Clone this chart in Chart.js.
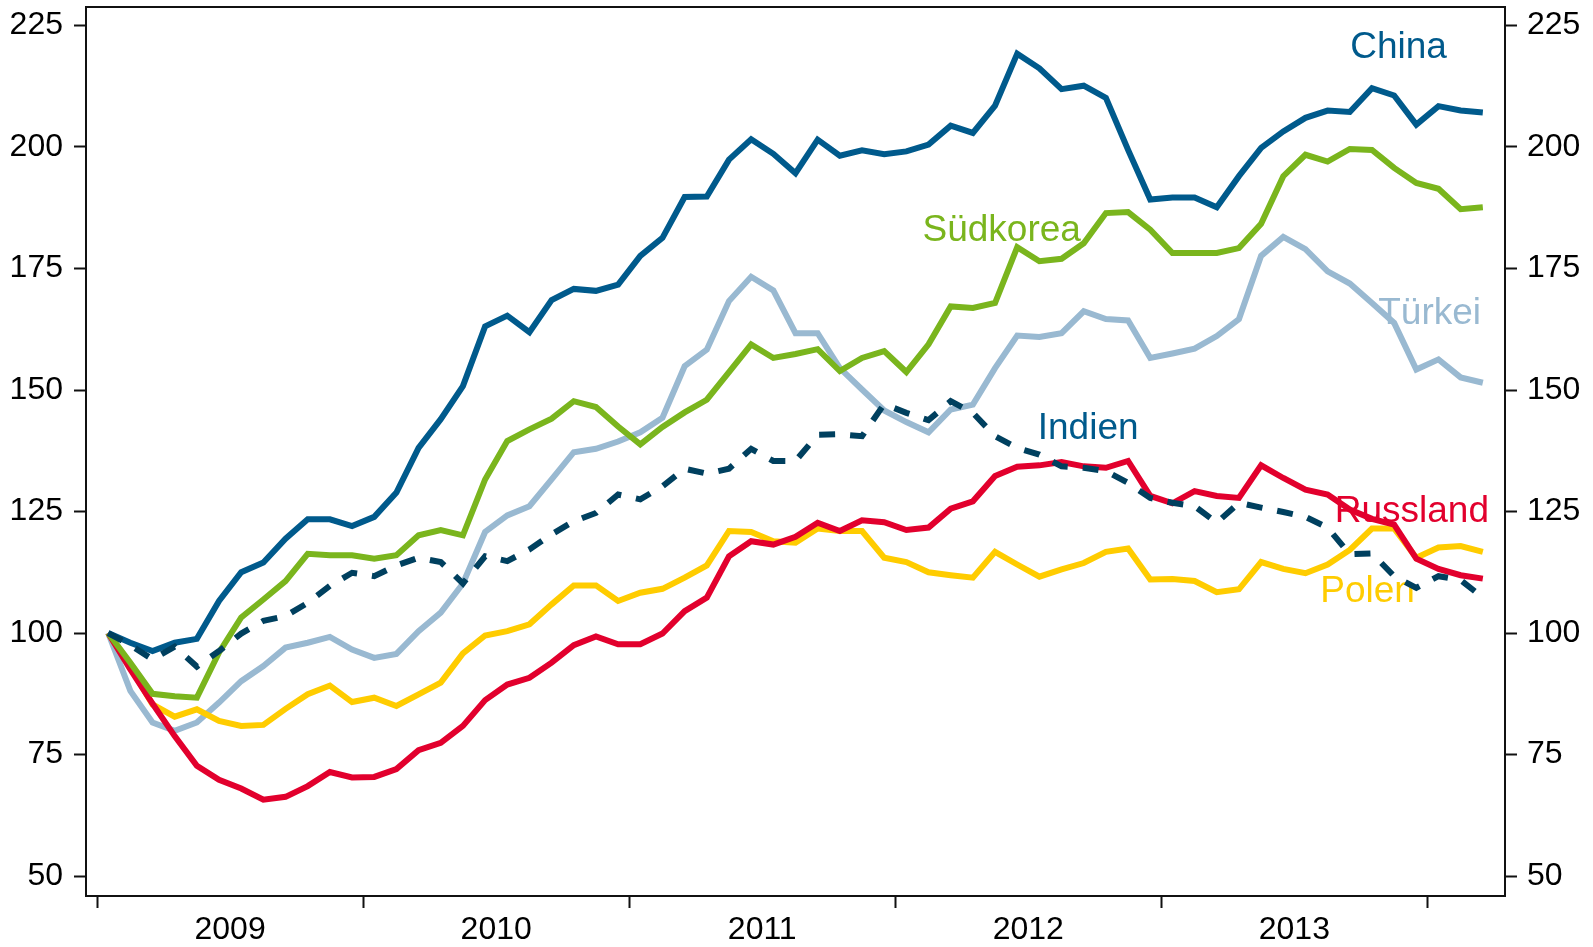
<!DOCTYPE html>
<html>
<head>
<meta charset="utf-8">
<script src="https://cdn.jsdelivr.net/npm/chart.js@4.4.1/dist/chart.umd.min.js"></script>
<style>
  html, body { margin: 0; padding: 0; background: #fff; }
  canvas { display: block; }
</style>
</head>
<body>
<canvas id="chart" width="1593" height="947"></canvas>
<script>
// Monatswerte Jan 2009 = 100, 63 Monate
const years = ['2009', '2010', '2011', '2012', '2013'];
const yTicks = [50, 75, 100, 125, 150, 175, 200, 225];

const china = [100, 98.0, 96.3, 98.0, 98.8, 106.6, 112.5, 114.5, 119.4, 123.4, 123.4, 122.0, 123.9, 128.9, 138.1, 144.0,
  150.8, 163.1, 165.3, 161.9, 168.5, 170.8, 170.4, 171.7, 177.6, 181.3, 189.7, 189.8, 197.4, 201.6, 198.6, 194.6,
  201.5, 198.2, 199.3, 198.5, 199.1, 200.5, 204.4, 202.9, 208.5, 219.2, 216.2, 211.9, 212.6, 210.1, 199.4, 189.2,
  189.6, 189.6, 187.6, 194.0, 199.8, 203.2, 206.0, 207.5, 207.2, 212.1, 210.6, 204.6, 208.4, 207.5, 207.1];
const suedkorea = [100, 93.9, 87.5, 87.0, 86.7, 96.0, 103.2, 106.9, 110.7, 116.3, 116.0, 116.0, 115.3, 116.0, 120.1, 121.2,
  120.1, 131.6, 139.5, 141.9, 144.1, 147.7, 146.5, 142.5, 138.8, 142.4, 145.4, 148.0, 153.7, 159.4, 156.6, 157.4,
  158.4, 153.9, 156.6, 158.0, 153.7, 159.4, 167.2, 166.9, 167.9, 179.4, 176.5, 177.0, 180.2, 186.4, 186.6, 183.0,
  178.2, 178.2, 178.2, 179.2, 184.2, 194.0, 198.4, 197.0, 199.6, 199.4, 195.7, 192.6, 191.4, 187.2, 187.6];
const tuerkei = [100, 88.1, 81.6, 79.9, 81.6, 85.7, 90.1, 93.2, 97.0, 98.0, 99.2, 96.6, 94.9, 95.7, 100.4, 104.2,
  110.2, 120.8, 124.2, 126.1, 131.6, 137.2, 137.9, 139.4, 141.3, 144.3, 154.9, 158.3, 168.3, 173.3, 170.5, 161.7,
  161.7, 154.5, 150.1, 145.8, 143.4, 141.3, 146.0, 147.0, 154.5, 161.2, 160.9, 161.7, 166.2, 164.6, 164.3, 156.6,
  157.5, 158.5, 161.1, 164.6, 177.6, 181.5, 179.0, 174.4, 171.9, 167.9, 163.8, 154.2, 156.3, 152.6, 151.5];
const indien = [100, 97.5, 94.6, 97.2, 93.1, 96.3, 99.9, 102.5, 103.5, 106.2, 109.7, 112.4, 111.7, 113.9, 115.5, 114.6,
  110.2, 115.8, 114.8, 117.2, 120.3, 123.0, 124.7, 128.5, 127.5, 130.2, 133.8, 132.8, 133.8, 137.9, 135.4, 135.4,
  140.8, 140.9, 140.5, 147.1, 145.3, 143.8, 147.7, 145.3, 140.5, 138.1, 136.7, 134.3, 134.0, 133.3, 130.9, 127.8,
  126.8, 126.1, 122.7, 126.8, 125.8, 124.9, 123.9, 121.7, 116.2, 116.4, 111.7, 109.3, 111.7, 110.9, 107.3];
const russland = [100, 92.5, 85.5, 78.8, 72.7, 69.8, 68.0, 65.7, 66.3, 68.5, 71.4, 70.3, 70.4, 72.0, 75.9, 77.4,
  80.9, 86.2, 89.4, 90.8, 93.9, 97.5, 99.3, 97.7, 97.7, 99.9, 104.5, 107.3, 115.8, 118.9, 118.2, 119.8,
  122.7, 121.0, 123.2, 122.8, 121.2, 121.7, 125.6, 127.1, 132.3, 134.2, 134.5, 135.2, 134.3, 134.0, 135.4, 128.2,
  126.7, 129.2, 128.2, 127.8, 134.5, 131.9, 129.5, 128.5, 125.4, 123.5, 122.3, 115.3, 113.2, 111.9, 111.2];
const polen = [100, 93.0, 85.3, 82.8, 84.3, 81.9, 80.9, 81.1, 84.4, 87.4, 89.2, 85.8, 86.7, 85.0, 87.4, 89.8,
  95.8, 99.5, 100.4, 101.8, 105.9, 109.8, 109.8, 106.6, 108.3, 109.1, 111.4, 113.9, 121.0, 120.8, 118.9, 118.6,
  121.5, 121.0, 121.0, 115.5, 114.6, 112.5, 111.9, 111.4, 116.7, 114.1, 111.6, 113.1, 114.4, 116.7, 117.4, 111.0,
  111.1, 110.7, 108.4, 109.0, 114.6, 113.2, 112.3, 114.1, 117.1, 121.5, 121.5, 115.5, 117.6, 117.9, 116.7];

const FONT = '"Liberation Sans", Arial, Helvetica, sans-serif';

const farben = {
  china: '#005a8c',
  indien: '#00405f',
  suedkorea: '#7ab51d',
  tuerkei: '#99b9d1',
  russland: '#e2002d',
  polen: '#ffcc00'
};

// Beschriftungen der Linien (Monatsindex, Wert der Grundlinie)
const beschriftungen = [
  { text: 'China', x: 58.2, y: 218.4, farbe: farben.china },
  { text: 'Südkorea', x: 40.3, y: 180.7, farbe: farben.suedkorea },
  { text: 'Türkei', x: 59.6, y: 163.5, farbe: farben.tuerkei },
  { text: 'Indien', x: 44.2, y: 140.0, farbe: farben.china },
  { text: 'Russland', x: 58.8, y: 122.8, farbe: farben.russland },
  { text: 'Polen', x: 56.8, y: 106.4, farbe: farben.polen }
];

const punkte = werte => werte.map((v, i) => ({ x: i, y: v }));

function linie(label, werte, farbe, dash) {
  return {
    label: label,
    data: punkte(werte),
    borderColor: farbe,
    borderWidth: 6,
    borderDash: dash || [],
    pointRadius: 0,
    tension: 0,
    fill: false
  };
}

const rahmen = {
  id: 'rahmen',
  beforeDatasetsDraw(chart) {
    const { ctx, scales } = chart;
    ctx.save();
    ctx.font = '37px ' + FONT;
    ctx.textAlign = 'center';
    ctx.textBaseline = 'alphabetic';
    beschriftungen.forEach(b => {
      ctx.fillStyle = b.farbe;
      ctx.fillText(b.text, scales.x.getPixelForValue(b.x), scales.y.getPixelForValue(b.y));
    });
    ctx.restore();
  },
  afterDraw(chart) {
    const { ctx, chartArea: a } = chart;
    ctx.save();
    ctx.strokeStyle = '#111';
    ctx.lineWidth = 2;
    ctx.strokeRect(a.left, a.top, a.right - a.left, a.bottom - a.top);
    ctx.restore();
  }
};

const yAchse = (pos, breite, abstand) => ({
  type: 'linear',
  position: pos,
  min: 45.9,
  max: 228.8,
  afterBuildTicks: s => { s.ticks = yTicks.map(v => ({ value: v })); },
  afterFit: s => { s.width = breite; s.paddingTop = 0; s.paddingBottom = 0; },
  border: { display: false },
  grid: { drawOnChartArea: false, drawTicks: true, tickLength: 12, tickWidth: 2, tickColor: '#111' },
  ticks: { color: '#000', padding: abstand, font: { family: FONT, size: 32 } }
});

new Chart(document.getElementById('chart').getContext('2d'), {
  type: 'line',
  data: {
    datasets: [
      linie('Indien', indien, farben.indien, [16, 15]),
      linie('China', china, farben.china),
      linie('Südkorea', suedkorea, farben.suedkorea),
      linie('Russland', russland, farben.russland),
      linie('Polen', polen, farben.polen),
      linie('Türkei', tuerkei, farben.tuerkei)
    ]
  },
  options: {
    responsive: false,
    animation: false,
    layout: { padding: { top: 7, left: 0, right: 0, bottom: 0 } },
    plugins: { legend: { display: false }, tooltip: { enabled: false } },
    scales: {
      x: {
        type: 'linear',
        position: 'bottom',
        min: -1,
        max: 63,
        afterBuildTicks: s => {
          const t = [];
          for (let k = 0; k <= years.length; k++) {
            t.push({ value: k * 12 - 0.5 });
            if (k < years.length) t.push({ value: k * 12 + 5.5 });
          }
          s.ticks = t;
        },
        afterFit: s => { s.height = 51; s.paddingLeft = 0; s.paddingRight = 0; },
        border: { display: false },
        grid: {
          drawOnChartArea: false,
          drawTicks: true,
          tickLength: 12,
          tickWidth: 2,
          tickColor: c => (c.tick && (c.tick.value + 0.5) % 12 === 0) ? '#111' : 'rgba(0,0,0,0)'
        },
        ticks: {
          autoSkip: false,
          maxRotation: 0,
          padding: 3,
          color: '#000',
          font: { family: FONT, size: 32 },
          callback: v => ((v - 5.5) % 12 === 0) ? years[(v - 5.5) / 12] : ''
        }
      },
      y: yAchse('left', 86, 11),
      y2: yAchse('right', 88, 10)
    }
  },
  plugins: [rahmen]
});
</script>
</body>
</html>
